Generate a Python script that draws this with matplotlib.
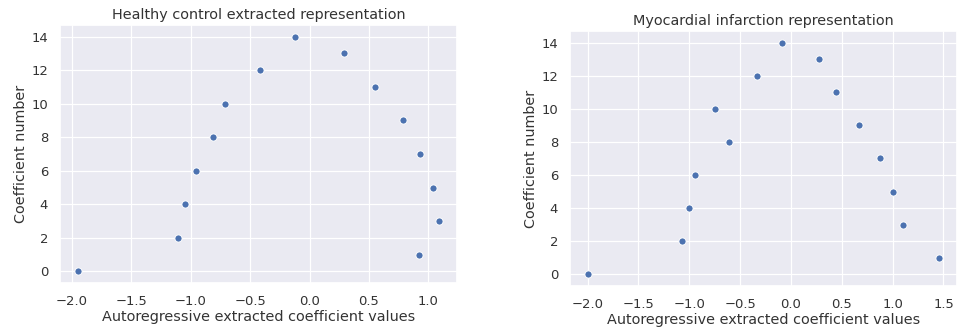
import numpy as np
import matplotlib
matplotlib.use("Agg")
import matplotlib.pyplot as plt
import seaborn as sns

coef_number = list(range(15))

healthy_values = [-1.95, 0.92, -1.11, 1.09, -1.05, 1.04, -0.96, 0.93,
                  -0.81, 0.79, -0.71, 0.55, -0.42, 0.29, -0.12]
mi_values = [-2.0, 1.46, -1.07, 1.10, -1.0, 1.0, -0.94, 0.88,
             -0.61, 0.67, -0.75, 0.44, -0.33, 0.28, -0.09]

titles = ["Healthy control extracted representation",
          "Myocardial infarction representation"]
xlabel = "Autoregressive extracted coefficient values"
ylabel = "Coefficient number"

sns.set_theme()
plt.rcParams['font.family'] = ['DejaVu Sans']

W, H = 959, 331
fig = plt.figure(figsize=(W / 100, H / 100), dpi=100)

# axes boxes in pixels: left, top, right, bottom
boxes = [(60, 25, 457, 283), (570, 31, 957, 286)]
scale = 0.86

for box, vals, title in zip(boxes, [healthy_values, mi_values], titles):
    l, t, r, b = box
    ax = fig.add_axes([l / W, (H - b) / H, (r - l) / W, (b - t) / H])
    sns.scatterplot(x=vals, y=coef_number, ax=ax, s=36 * scale * scale,
                    linewidth=0.75 * scale, color="#4C72B0")
    ax.set_title(title, fontsize=12 * scale, pad=5 * scale, color="#333333")
    ax.set_xlabel(xlabel, fontsize=12 * scale, labelpad=2 * scale, color="#333333")
    ax.set_ylabel(ylabel, fontsize=12 * scale, labelpad=3 * scale, color="#333333")
    ax.tick_params(labelsize=11 * scale, pad=3 * scale, labelcolor="#333333")
    ax.set_yticks(np.arange(0, 15, 2))
    ax.grid(linewidth=1.0 * scale)

fig.savefig("out.png", dpi=100)
